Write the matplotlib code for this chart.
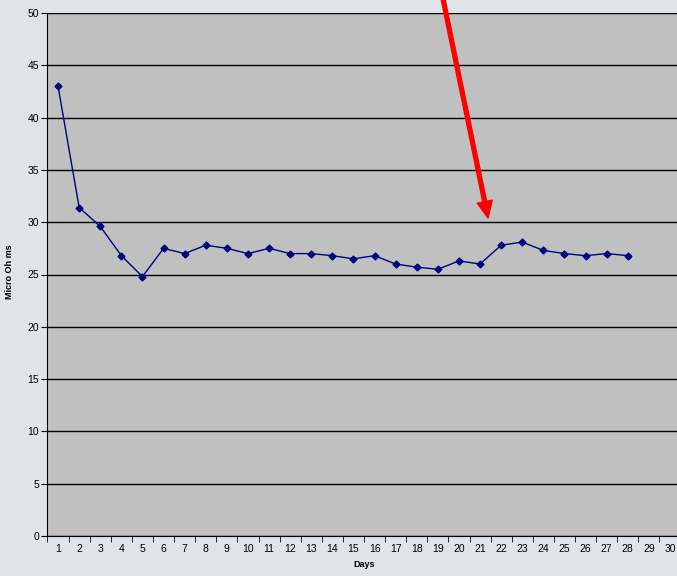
import numpy as np
import matplotlib.pyplot as plt

plt.rcParams['font.family'] = ['Liberation Sans', 'DejaVu Sans']

days = list(range(1, 31))
day_labels = [str(d) for d in days]
measured_days = list(range(1, 29))
micro_ohms = [43.0, 31.4, 29.6, 26.8, 24.8, 27.5, 27.0, 27.8, 27.5, 27.0,
              27.5, 27.0, 27.0, 26.8, 26.5, 26.8, 26.0, 25.7, 25.5, 26.3,
              26.0, 27.8, 28.1, 27.3, 27.0, 26.8, 27.0, 26.8]

fig = plt.figure(figsize=(6.77, 5.76), dpi=100, facecolor='#dfe4e8')
ax = fig.add_axes([47.5 / 677, 40 / 576, 633 / 677, 523 / 576])
ax.set_facecolor('#c0c0c0')

ax.plot(measured_days, micro_ohms, color='#000080', lw=1.0,
        marker='D', markersize=3.5, zorder=3)

ax.set_xlim(0.5, 30.5)
ax.set_ylim(0, 50)
ax.set_yticks(np.arange(0, 51, 5))
ax.yaxis.grid(True, color='black', lw=1.0)
ax.set_axisbelow(True)

# category axis: labels centered, tick marks on boundaries
ax.set_xticks(days)
ax.set_xticklabels(day_labels)
ax.set_xticks(np.arange(0.5, 31, 1), minor=True)
ax.tick_params(axis='x', which='major', length=0, pad=6, labelsize=7.5)
ax.tick_params(axis='x', which='minor', length=4, direction='out', color='black')
ax.tick_params(axis='y', length=4, direction='out', labelsize=7.5, pad=2)

for side in ['top', 'right']:
    ax.spines[side].set_visible(False)
ax.spines['left'].set_color('black')
ax.spines['bottom'].set_color('black')

ax.set_xlabel('Days', fontsize=6.5, fontweight='bold', labelpad=4)
ax.set_ylabel('Micro Oh ms', fontsize=6.5, fontweight='bold')
ax.yaxis.set_label_coords(-0.053, 0.505)

# red arrow pointing at the day 21-22 jump
ax.annotate('', xy=(21.38, 30.4), xytext=(19.2, 51.8),
            xycoords='data', textcoords='data', annotation_clip=False,
            arrowprops=dict(width=2.8, headwidth=11, headlength=12,
                            facecolor='#ff0000', edgecolor='#ff0000',
                            shrink=0))

fig.savefig('out.png', dpi=100, facecolor=fig.get_facecolor())
